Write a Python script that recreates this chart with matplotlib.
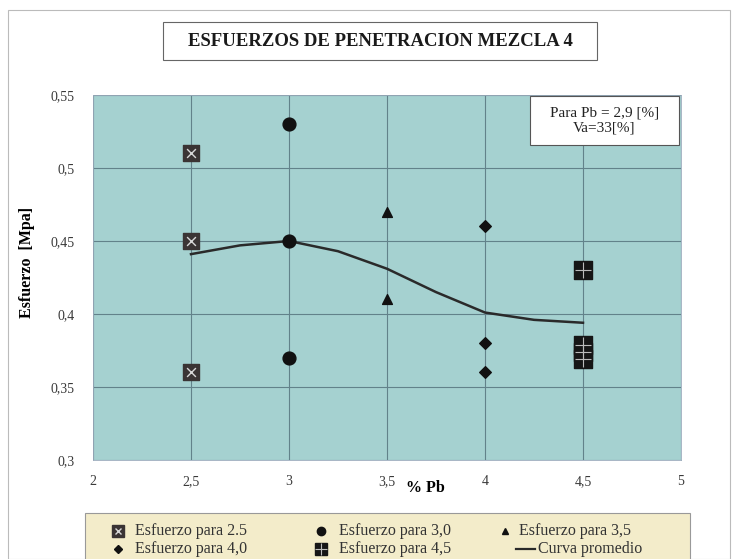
import matplotlib
matplotlib.use("Agg")
import matplotlib.pyplot as plt
from matplotlib.lines import Line2D
from matplotlib.patches import Rectangle
from matplotlib.ticker import FuncFormatter

plt.rcParams['font.family'] = ['Liberation Serif', 'DejaVu Serif']

# Data
x25 = [2.5, 2.5, 2.5]
y25 = [0.51, 0.45, 0.36]
x30 = [3.0, 3.0, 3.0]
y30 = [0.53, 0.45, 0.37]
x35 = [3.5, 3.5]
y35 = [0.47, 0.41]
x40 = [4.0, 4.0, 4.0]
y40 = [0.46, 0.38, 0.36]
x45 = [4.5, 4.5, 4.5, 4.5]
y45 = [0.43, 0.379, 0.374, 0.369]
curve_x = [2.5, 2.75, 3.0, 3.25, 3.5, 3.75, 4.0, 4.25, 4.5]
curve_y = [0.441, 0.447, 0.450, 0.443, 0.431, 0.415, 0.401, 0.396, 0.394]

xticks = [2, 2.5, 3, 3.5, 4, 4.5, 5]
yticks = [0.3, 0.35, 0.4, 0.45, 0.5, 0.55]

title = "ESFUERZOS DE PENETRACION MEZCLA 4"
labels = ["Esfuerzo para 2.5", "Esfuerzo para 3,0", "Esfuerzo para 3,5",
          "Esfuerzo para 4,0", "Esfuerzo para 4,5", "Curva promedio"]

W, H = 736, 559
fig = plt.figure(figsize=(7.36, 5.59), dpi=100)
fig.patch.set_facecolor('white')


def fx(px):
    return px / W


def fy(py):
    return 1 - py / H


ax = fig.add_axes([fx(93), fy(460), (681 - 93) / W, (460 - 95) / H])
ax.set_facecolor('#a5d1d0')
ax.set_xlim(2, 5)
ax.set_ylim(0.3, 0.55)
ax.set_xticks(xticks)
ax.set_yticks(yticks)
fmt = FuncFormatter(lambda v, p: ('%g' % v).replace('.', ','))
ax.xaxis.set_major_formatter(fmt)
ax.yaxis.set_major_formatter(fmt)
ax.tick_params(axis='y', length=0, labelsize=10, colors='#3a3a3a', pad=13)
ax.tick_params(axis='x', length=0, labelsize=10, colors='#3a3a3a', pad=11)
ax.grid(True, color='#62828a', linewidth=0.8)
ax.set_axisbelow(True)
for s in ax.spines.values():
    s.set_color('#9ab')
    s.set_linewidth(0.6)

# series
ax.plot(curve_x, curve_y, color='#2a2a2a', lw=1.8, zorder=3)
ax.scatter(x25, y25, marker='s', s=130, c='#3a3434', zorder=4)
ax.scatter(x25, y25, marker='x', s=40, c='#d8d8d8', linewidths=1, zorder=5)
ax.scatter(x30, y30, marker='o', s=85, c='#111111', zorder=4)
ax.scatter(x35, y35, marker='^', s=50, c='#111111', zorder=4)
ax.scatter(x40, y40, marker='D', s=35, c='#111111', zorder=4)
ax.scatter(x45, y45, marker='s', s=150, c='#161616', zorder=4)
ax.scatter(x45, y45, marker='+', s=130, c='#bbbbbb', linewidths=0.8, zorder=5)

ax.set_ylabel("Esfuerzo  [Mpa]", fontsize=11.5, fontweight='bold')
ax.yaxis.set_label_coords((35 - 93) / 588, (460 - 262) / 365)
fig.text(fx(425), fy(488), "% Pb", fontsize=11.5, fontweight='bold',
         ha='center', va='center')

# annotation box
ax.add_patch(Rectangle((0.743, 0.862), 0.254, 0.135, transform=ax.transAxes,
                       fc='white', ec='#555555', lw=0.8, zorder=6))
ax.text(0.87, 0.93, "Para Pb = 2,9 [%]\nVa=33[%]", transform=ax.transAxes,
        ha='center', va='center', fontsize=11, linespacing=1.15,
        multialignment='center', zorder=7, color='#222222')

# title
fig.add_artist(Rectangle((fx(163), fy(60)), (597 - 163) / W, 38 / H,
                         transform=fig.transFigure, fc='white', ec='#666666', lw=0.8))
fig.text(fx(380), fy(41), title, ha='center', va='center', fontsize=13.5,
         fontweight='bold', color='#1a1a1a')

# outer border
fig.add_artist(Rectangle((fx(8), 0), 722 / W, 1 - 10 / H, transform=fig.transFigure,
                         fill=False, ec='#bbbbbb', lw=0.8))

# legend (manual layout)
fig.add_artist(Rectangle((fx(85), fy(562)), 605 / W, 49 / H, transform=fig.transFigure,
                         fc='#f3ecca', ec='#999999', lw=0.8))
r1, r2 = fy(531), fy(549)
legend_items = [
    (118, r1, 135, labels[0], [dict(marker='s', ms=8, color='#3a3434'),
                               dict(marker='x', ms=5, color='#d8d8d8', mew=1)]),
    (321, r1, 339, labels[1], [dict(marker='o', ms=6, color='#111111')]),
    (505, r1, 519, labels[2], [dict(marker='^', ms=5, color='#111111')]),
    (118, r2, 135, labels[3], [dict(marker='D', ms=4, color='#111111')]),
    (321, r2, 339, labels[4], [dict(marker='s', ms=8, color='#161616'),
                               dict(marker='+', ms=8, color='#bbbbbb', mew=0.8)]),
]
for mx, my, tx, lab, styles in legend_items:
    for st in styles:
        fig.add_artist(Line2D([fx(mx)], [my], ls='none', transform=fig.transFigure, **st))
    fig.text(fx(tx), my, lab, fontsize=11.5, ha='left', va='center', color='#333333')
fig.add_artist(Line2D([fx(516), fx(535)], [r2, r2], color='#2a2a2a', lw=1.6,
                      transform=fig.transFigure))
fig.text(fx(538), r2, labels[5], fontsize=11.5, ha='left', va='center', color='#333333')

fig.savefig("out.png", dpi=100)
